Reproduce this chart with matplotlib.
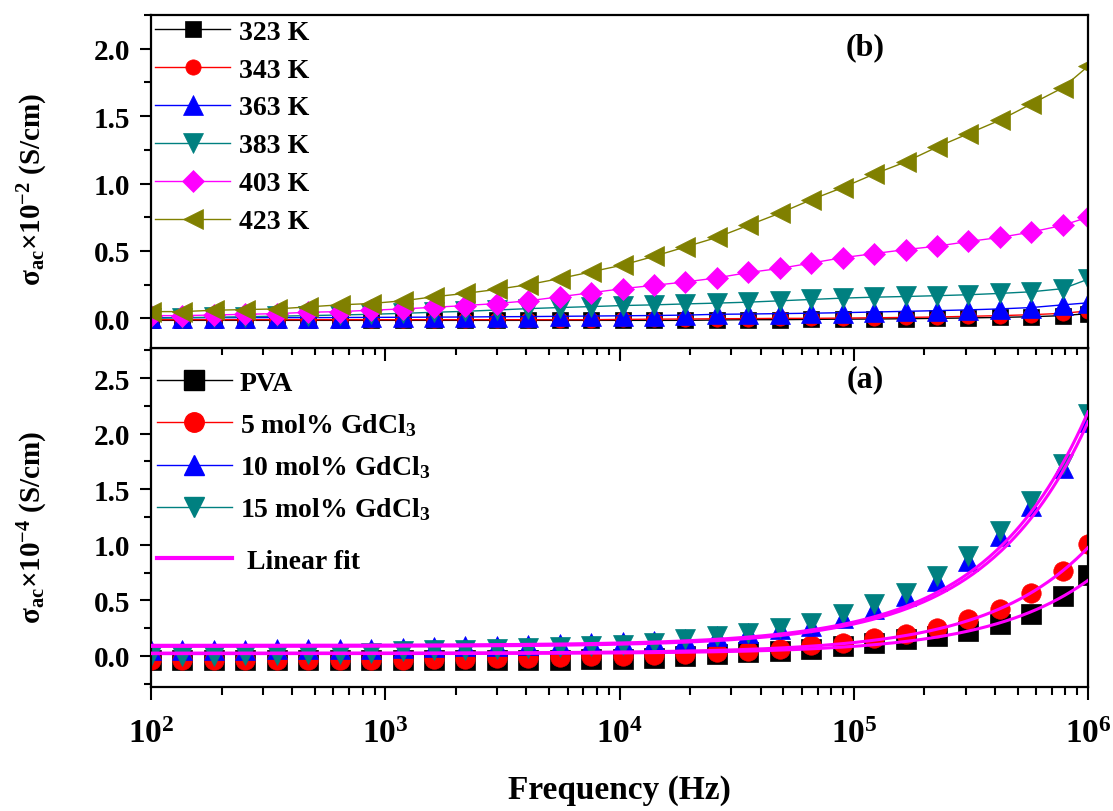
import numpy as np
import matplotlib
matplotlib.use("Agg")
import matplotlib.pyplot as plt
from matplotlib.lines import Line2D
from matplotlib.ticker import MultipleLocator

plt.rcParams['font.family'] = 'Liberation Serif'
plt.rcParams['font.weight'] = 'bold'
plt.rcParams['axes.labelweight'] = 'bold'
plt.rcParams['mathtext.fontset'] = 'custom'
plt.rcParams['mathtext.rm'] = 'Liberation Serif:bold'
plt.rcParams['mathtext.bf'] = 'Liberation Serif:bold'
plt.rcParams['mathtext.it'] = 'Liberation Serif:italic:bold'
plt.rcParams['mathtext.default'] = 'rm'

# frequencies (Hz), same for every series
freq = [100, 136, 186, 253, 344, 469, 639, 870, 1185, 1614,
        2198, 2994, 4078, 5555, 7566, 10304, 14036, 19118, 26040, 35469,
        48306, 65797, 89620, 122070, 166270, 226460, 308460, 420150, 572270, 779480,
        1000000]

# (b) temperature series, sigma_ac x 1e-2 S/cm
temps = ['323 K', '343 K', '363 K', '383 K', '403 K', '423 K']
s323 = [-0.015, -0.015, -0.015, -0.015, -0.015, -0.015, -0.015, -0.015, -0.015, -0.015,
        -0.015, -0.015, -0.015, -0.015, -0.015, -0.015, -0.015, -0.015, -0.012, -0.01,
        -0.01, -0.008, -0.006, -0.005, -0.003, 0.0, 0.003, 0.007, 0.012, 0.02, 0.035]
s343 = [-0.01, -0.01, -0.01, -0.01, -0.01, -0.01, -0.01, -0.01, -0.01, -0.01,
        -0.01, -0.01, -0.01, -0.01, -0.01, -0.008, -0.006, -0.005, -0.003, -0.002,
        0.0, 0.0, 0.002, 0.004, 0.007, 0.01, 0.015, 0.02, 0.027, 0.037, 0.055]
s363 = [0.005, 0.005, 0.005, 0.005, 0.005, 0.005, 0.006, 0.007, 0.008, 0.009,
        0.01, 0.012, 0.013, 0.015, 0.017, 0.019, 0.021, 0.024, 0.03, 0.032,
        0.035, 0.038, 0.042, 0.047, 0.052, 0.057, 0.063, 0.07, 0.08, 0.10, 0.115]
s383 = [0.0, 0.005, 0.008, 0.012, 0.016, 0.02, 0.025, 0.03, 0.037, 0.045,
        0.052, 0.062, 0.072, 0.08, 0.087, 0.095, 0.10, 0.107, 0.113, 0.12,
        0.13, 0.14, 0.15, 0.157, 0.162, 0.168, 0.175, 0.185, 0.197, 0.22, 0.29]
s403 = [0.02, 0.02, 0.025, 0.03, 0.035, 0.045, 0.05, 0.06, 0.07, 0.082,
        0.095, 0.11, 0.13, 0.16, 0.19, 0.22, 0.245, 0.27, 0.30, 0.34,
        0.37, 0.41, 0.45, 0.48, 0.51, 0.535, 0.57, 0.60, 0.64, 0.69, 0.75]
s423 = [0.05, 0.05, 0.06, 0.065, 0.07, 0.085, 0.10, 0.11, 0.13, 0.16,
        0.185, 0.215, 0.25, 0.295, 0.345, 0.395, 0.46, 0.53, 0.60, 0.69,
        0.78, 0.88, 0.97, 1.07, 1.16, 1.27, 1.37, 1.47, 1.59, 1.71, 1.87]

# (a) composition series, sigma_ac x 1e-4 S/cm
samples = ['PVA', '5 mol% GdCl$_3$', '10 mol% GdCl$_3$', '15 mol% GdCl$_3$']
pva = [-0.04, -0.04, -0.04, -0.04, -0.04, -0.04, -0.04, -0.04, -0.04, -0.04,
       -0.04, -0.04, -0.04, -0.035, -0.03, -0.025, -0.015, 0.0, 0.018, 0.033,
       0.048, 0.063, 0.09, 0.12, 0.15, 0.18, 0.225, 0.285, 0.375, 0.54, 0.73]
gd5 = [-0.035, -0.035, -0.035, -0.035, -0.035, -0.035, -0.035, -0.035, -0.035, -0.027,
       -0.025, -0.02, -0.015, -0.01, -0.005, 0.0, 0.005, 0.015, 0.033, 0.048,
       0.063, 0.10, 0.12, 0.165, 0.195, 0.255, 0.33, 0.425, 0.57, 0.765, 1.01]
gd10 = [0.055, 0.055, 0.055, 0.057, 0.059, 0.061, 0.063, 0.066, 0.07, 0.078,
        0.085, 0.09, 0.10, 0.11, 0.12, 0.128, 0.137, 0.152, 0.175, 0.21,
        0.24, 0.27, 0.345, 0.42, 0.54, 0.675, 0.855, 1.08, 1.345, 1.69, 2.10]
gd15 = [0.0, 0.0, 0.0, 0.005, 0.01, 0.015, 0.02, 0.03, 0.04, 0.05,
        0.055, 0.06, 0.07, 0.08, 0.09, 0.10, 0.12, 0.15, 0.18, 0.21,
        0.255, 0.30, 0.375, 0.465, 0.57, 0.72, 0.90, 1.12, 1.39, 1.73, 2.18]

# linear fits sigma = a + b*f (PVA, 5, 10, 15 mol%)
fit_a = [0.02, 0.025, 0.085, 0.095]
fit_b = [0.66e-6, 0.95e-6, 2.02e-6, 2.10e-6]

xtick_pos = [1e2, 1e3, 1e4, 1e5, 1e6]
xtick_lab = ['$10^{2}$', '$10^{3}$', '$10^{4}$', '$10^{5}$', '$10^{6}$']

fig = plt.figure(figsize=(11.13, 8.12), dpi=100)
ax_b = fig.add_axes([0.1357, 0.5702, 0.8419, 0.4101])
ax_a = fig.add_axes([0.1357, 0.1527, 0.8419, 0.4175])
ax_b.set_zorder(3)

cols = ['#000000', '#ff0000', '#0000ff', '#008080', '#ff00ff', '#808000']
mk = ['s', 'o', '^', 'v', 'D', '<']
ms = [11, 11, 15, 15, 11.5, 15]

for y, lab, c, m, s in zip([s323, s343, s363, s383, s403, s423], temps, cols, mk, ms):
    ax_b.plot(freq, y, color=c, lw=1.0, marker=m, ms=s, mec=c, mew=0.5, label=lab)

ms_a = [14, 14, 15, 15]
handles = []
for y, lab, c, m, s in zip([pva, gd5, gd10, gd15], samples, cols, mk, ms_a):
    ax_a.plot(freq, y, ls='none', marker=m, ms=s, color=c, mec=c, mew=0.5)
    handles.append(Line2D([], [], color=c, lw=1.0, marker=m, ms=s, mec=c, label=lab))

ff = np.geomspace(freq[0], freq[-1], 400)
for a, b in zip(fit_a, fit_b):
    ax_a.plot(ff, a + b * ff, color='#ff00ff', lw=2.2, zorder=5)
fit_handle = Line2D([], [], color='#ff00ff', lw=3.0, label=' Linear fit')

for ax in (ax_a, ax_b):
    ax.set_xscale('log')
    ax.set_xlim(1e2, 1e6)
    ax.yaxis.set_major_locator(MultipleLocator(0.5))
    ax.yaxis.set_minor_locator(MultipleLocator(0.25))
    ax.yaxis.set_major_formatter(matplotlib.ticker.FormatStrFormatter('%.1f'))
    for sp in ax.spines.values():
        sp.set_linewidth(1.6)
    ax.tick_params(axis='both', which='major', direction='out', length=8, width=1.5,
                   top=False, right=False, labelsize=21)
    ax.tick_params(axis='both', which='minor', direction='out', length=5, width=1.5,
                   top=False, right=False)
    ax.tick_params(axis='y', which='major', pad=7)

ax_b.set_ylim(-0.22, 2.25)
ax_a.set_ylim(-0.28, 2.77)
ax_b.tick_params(axis='x', which='both', labelbottom=False)
ax_b.tick_params(axis='x', which='major', length=9.5)
ax_a.tick_params(axis='x', which='major', length=9.5, pad=13)
ax_a.tick_params(axis='x', which='minor', length=6)
ax_a.set_xticks(xtick_pos, xtick_lab)
ax_a.tick_params(axis='x', labelsize=24)

ax_b.set_ylabel(r'$\sigma_{ac}{\times}10^{-2}$ (S/cm)', fontsize=21)
ax_a.set_ylabel(r'$\sigma_{ac}{\times}10^{-4}$ (S/cm)', fontsize=21)
ax_b.yaxis.set_label_coords(-0.108, 0.48)
ax_a.yaxis.set_label_coords(-0.108, 0.475)
ax_a.set_xlabel('Frequency (Hz)', fontsize=24, labelpad=18)

ax_b.text(0.762, 0.904, '(b)', transform=ax_b.transAxes, ha='center', va='center', fontsize=23)
ax_a.text(0.762, 0.909, '(a)', transform=ax_a.transAxes, ha='center', va='center', fontsize=23)

ax_b.legend(loc='upper left', frameon=False, fontsize=20, numpoints=1,
            handlelength=2.7, handletextpad=0.3, labelspacing=0.45,
            borderaxespad=0.1, borderpad=0.05)
leg_a = ax_a.legend(handles=handles, loc='upper left', bbox_to_anchor=(0.0, 0.95),
                    frameon=False, fontsize=20, numpoints=1,
                    handlelength=2.7, handletextpad=0.3, labelspacing=0.55,
                    borderaxespad=0.1, borderpad=0.1)
ax_a.add_artist(leg_a)
ax_a.legend(handles=[fit_handle], loc='upper left', bbox_to_anchor=(0.0, 0.425),
            frameon=False, fontsize=20, handlelength=2.7, handletextpad=0.3,
            borderaxespad=0.1, borderpad=0.1)

fig.savefig('out.png', dpi=100)
